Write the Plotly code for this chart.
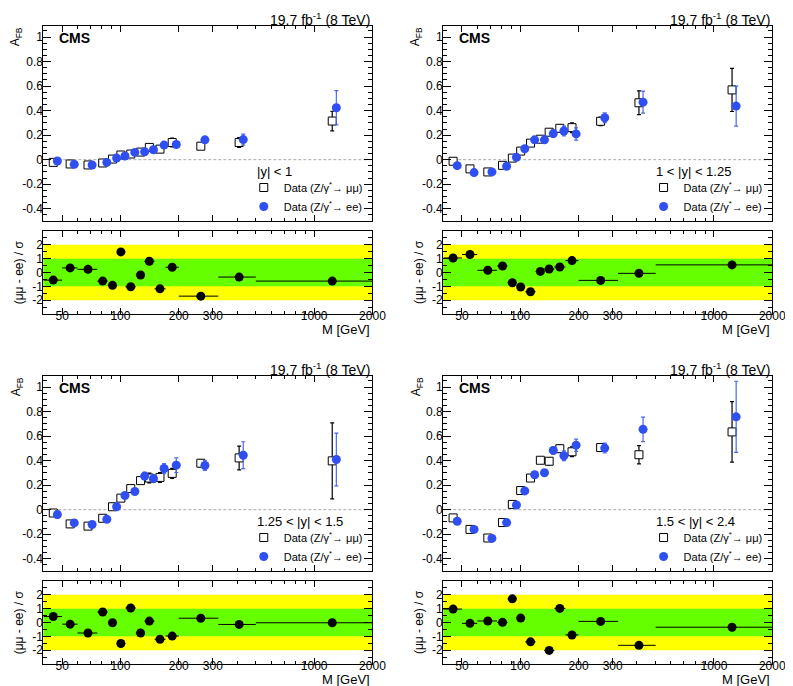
import plotly.graph_objects as go

# Dilepton mass bins [GeV] and mean mass of each bin
BIN_EDGES = [40, 50, 60, 76, 86, 96, 106, 120, 133, 150, 171, 200, 320, 500, 2000]
MASS = [45, 55, 68, 81, 91, 100.5, 113, 127, 141, 160, 185, 260, 410, 1240]

# |y| < 1
afb_mm_1 = [-0.022, -0.035, -0.043, -0.027, 0.005, 0.038, 0.046, 0.062, 0.100, 0.086, 0.140, 0.110, 0.140, 0.315]
err_mm_1 = [0.008, 0.006, 0.005, 0.004, 0.002, 0.003, 0.005, 0.008, 0.010, 0.015, 0.035, 0.020, 0.040, 0.080]
afb_ee_1 = [-0.011, -0.038, -0.043, -0.022, 0.013, 0.030, 0.059, 0.065, 0.081, 0.119, 0.124, 0.162, 0.164, 0.423]
err_ee_1 = [0.010, 0.008, 0.006, 0.005, 0.002, 0.004, 0.006, 0.010, 0.012, 0.018, 0.020, 0.025, 0.045, 0.140]
pull_1 = [-0.55, 0.33, 0.23, -0.62, -0.93, 1.49, -1.03, -0.18, 0.81, -1.18, 0.38, -1.71, -0.33, -0.62]

# 1 < |y| < 1.25
afb_mm_2 = [-0.013, -0.075, -0.100, -0.046, 0.013, 0.070, 0.135, 0.167, 0.224, 0.256, 0.261, 0.313, 0.464, 0.569]
err_mm_2 = [0.012, 0.010, 0.010, 0.008, 0.004, 0.006, 0.010, 0.015, 0.020, 0.030, 0.040, 0.035, 0.097, 0.176]
afb_ee_2 = [-0.049, -0.105, -0.100, -0.054, 0.019, 0.089, 0.162, 0.162, 0.213, 0.234, 0.210, 0.342, 0.469, 0.437]
err_ee_2 = [0.015, 0.012, 0.012, 0.010, 0.005, 0.008, 0.012, 0.030, 0.030, 0.040, 0.050, 0.040, 0.090, 0.163]
pull_2 = [1.05, 1.30, 0.16, 0.47, -0.74, -1.05, -1.39, 0.08, 0.25, 0.40, 0.86, -0.57, -0.06, 0.55]

# 1.25 < |y| < 1.5
afb_mm_3 = [-0.027, -0.116, -0.134, -0.070, 0.024, 0.094, 0.172, 0.237, 0.258, 0.263, 0.296, 0.379, 0.422, 0.398]
err_mm_3 = [0.015, 0.012, 0.012, 0.010, 0.005, 0.008, 0.012, 0.020, 0.040, 0.040, 0.040, 0.030, 0.097, 0.310]
afb_ee_3 = [-0.040, -0.108, -0.121, -0.078, 0.024, 0.116, 0.148, 0.274, 0.253, 0.336, 0.363, 0.360, 0.444, 0.409]
err_ee_3 = [0.030, 0.015, 0.015, 0.012, 0.006, 0.010, 0.015, 0.030, 0.030, 0.040, 0.060, 0.040, 0.110, 0.215]
pull_3 = [0.43, -0.12, -0.76, 0.76, -0.02, -1.52, 1.05, -0.76, 0.10, -1.21, -0.98, 0.31, -0.14, -0.02]

# 1.5 < |y| < 2.4  (bin 120-133 pull falls outside the frame)
afb_mm_4 = [-0.067, -0.161, -0.231, -0.105, 0.043, 0.156, 0.258, 0.403, 0.395, 0.497, 0.472, 0.507, 0.448, 0.634]
err_mm_4 = [0.012, 0.010, 0.010, 0.010, 0.006, 0.010, 0.012, 0.015, 0.030, 0.030, 0.040, 0.030, 0.075, 0.247]
afb_ee_4 = [-0.094, -0.161, -0.234, -0.105, 0.038, 0.153, 0.285, 0.301, 0.483, 0.440, 0.526, 0.502, 0.655, 0.757]
err_ee_4 = [0.015, 0.012, 0.012, 0.012, 0.008, 0.012, 0.015, 0.020, 0.030, 0.040, 0.050, 0.040, 0.100, 0.290]
pull_4 = [0.97, -0.06, 0.11, 0.01, 1.71, 0.32, -1.40, None, -2.02, 1.02, -0.90, 0.08, -1.65, -0.34]

RAP_LABELS = ["|y| < 1", "1 < |y| < 1.25", "1.25 < |y| < 1.5", "1.5 < |y| < 2.4"]

panels = [
    (afb_mm_1, err_mm_1, afb_ee_1, err_ee_1, pull_1),
    (afb_mm_2, err_mm_2, afb_ee_2, err_ee_2, pull_2),
    (afb_mm_3, err_mm_3, afb_ee_3, err_ee_3, pull_3),
    (afb_mm_4, err_mm_4, afb_ee_4, err_ee_4, pull_4),
]

W, H = 793, 686
FONT = "Liberation Sans, Arial, sans-serif"
BLUE = "#2f4ff0"
EE_SHIFT = 1.05  # ee points drawn slightly to the right of the mumu ones


def px(x):
    return x / W


def py(y):
    return 1 - y / H


lo_err = [m - lo for m, lo in zip(MASS, BIN_EDGES[:-1])]
hi_err = [hi - m for m, hi in zip(MASS, BIN_EDGES[1:])]
mass_ee = [m * EE_SHIFT for m in MASS]

fig = go.Figure()
layout = {}
shapes = []
annotations = []

x_major = [50, 100, 200, 300, 1000, 2000]
x_minor = [40, 60, 70, 80, 90, 400, 500, 600, 700, 800, 900]

for i, (mm, emm, ee, eee, pull) in enumerate(panels):
    col, row = i % 2, i // 2
    x0 = [36, 443][col]
    x1 = x0 + 335
    off = row * 350
    main_top, main_bot = 18 + off, 213 + off
    rat_top, rat_bot = 223 + off, 306 + off

    nm, nr = 2 * i + 1, 2 * i + 2
    sm = "" if nm == 1 else str(nm)
    sr = str(nr)
    leg = "legend" if i == 0 else f"legend{i + 1}"

    fig.add_trace(go.Scatter(
        x=MASS, y=mm, mode="markers", xaxis="x" + sm, yaxis="y" + sm,
        name="Data (Z/γ<sup>*</sup>→ μμ)", legend=leg,
        marker=dict(symbol="square", size=8, color="white",
                    line=dict(color="black", width=1)),
        error_y=dict(type="data", array=emm, color="black", thickness=1.2, width=2),
    ))
    fig.add_trace(go.Scatter(
        x=mass_ee, y=ee, mode="markers", xaxis="x" + sm, yaxis="y" + sm,
        name="Data (Z/γ<sup>*</sup>→ ee)", legend=leg,
        marker=dict(symbol="circle", size=9, color=BLUE),
        error_y=dict(type="data", array=eee, color="#4a66ee", thickness=1.2, width=2),
    ))
    fig.add_trace(go.Scatter(
        x=MASS, y=pull, mode="markers", xaxis="x" + sr, yaxis="y" + sr,
        showlegend=False,
        marker=dict(symbol="circle", size=9, color="black"),
        error_x=dict(type="data", symmetric=False, array=hi_err, arrayminus=lo_err,
                     color="black", thickness=1, width=0),
    ))

    xcommon = dict(type="log", range=[1.60206, 3.30103], domain=[px(x0), px(x1)],
                   showline=True, linecolor="black", linewidth=1, mirror="allticks",
                   ticks="inside", ticklen=6, tickcolor="black",
                   tickvals=x_major, ticktext=[str(v) for v in x_major],
                   minor=dict(tickvals=x_minor, ticks="inside", ticklen=3, tickcolor="black"),
                   showgrid=False, zeroline=False, ticklabelstandoff=-9,
                   tickfont=dict(family=FONT, size=12, color="black"))
    layout["xaxis" + sm] = dict(xcommon, anchor="y" + sm, showticklabels=False)
    layout["xaxis" + sr] = dict(xcommon, anchor="y" + sr, showticklabels=True)
    ycommon = dict(showline=True, linecolor="black", linewidth=1, mirror="allticks",
                   ticks="inside", ticklen=8, tickcolor="black",
                   showgrid=False, zeroline=False, ticklabelstandoff=-3,
                   tickfont=dict(family=FONT, size=12, color="black"))
    layout["yaxis" + sm] = dict(
        ycommon, anchor="x" + sm, domain=[py(main_bot), py(main_top)], range=[-0.5, 1.09],
        tickvals=[-0.4, -0.2, 0, 0.2, 0.4, 0.6, 0.8, 1],
        ticktext=["-0.4", "-0.2", "0", "0.2", "0.4", "0.6", "0.8", "1"],
        minor=dict(dtick=0.05, tick0=0, ticks="inside", ticklen=4, tickcolor="black"))
    layout["yaxis" + sr] = dict(
        ycommon, anchor="x" + sr, domain=[py(rat_bot), py(rat_top)], range=[-3, 3],
        tickvals=[-2, -1, 0, 1, 2], ticktext=["-2", "-1", "0", "1", "2"],
        minor=dict(dtick=0.5, tick0=0, ticks="inside", ticklen=4, tickcolor="black"))

    # +-2 sigma and +-1 sigma bands
    shapes.append(dict(type="rect", xref=f"x{sr} domain", yref="y" + sr,
                       x0=0, x1=1, y0=-2, y1=2, fillcolor="#ffff00",
                       line=dict(width=0), layer="below"))
    shapes.append(dict(type="rect", xref=f"x{sr} domain", yref="y" + sr,
                       x0=0, x1=1, y0=-1, y1=1, fillcolor="#66ff00",
                       line=dict(width=0), layer="below"))
    # zero line
    shapes.append(dict(type="line", xref=f"x{sm} domain", yref="y" + sm,
                       x0=0, x1=1, y0=0, y1=0,
                       line=dict(color="#aaaaaa", width=1, dash="3px,2px"), layer="below"))

    annotations += [
        dict(text="19.7 fb<sup>-1</sup> (8 TeV)", x=px(x1), y=py(11 + off),
             xref="paper", yref="paper", xanchor="right", yanchor="middle",
             showarrow=False, font=dict(family=FONT, size=14, color="black")),
        dict(text="<b>CMS</b>", x=px(x0 + 14), y=py(30 + off),
             xref="paper", yref="paper", xanchor="left", yanchor="middle",
             showarrow=False, font=dict(family=FONT, size=14, color="black")),
        dict(text="A<sub>FB</sub>", x=px(x0 - 27), y=py(17 + off), textangle=-90,
             xref="paper", yref="paper", xanchor="center", yanchor="top",
             showarrow=False, font=dict(family=FONT, size=12, color="black")),
        dict(text="(μμ - ee) / σ", x=px(x0 - 25), y=py((rat_top + rat_bot) / 2),
             textangle=-90, xref="paper", yref="paper",
             xanchor="center", yanchor="middle",
             showarrow=False, font=dict(family=FONT, size=12, color="black")),
        dict(text="M [GeV]", x=px(x1), y=py(rat_bot + 15),
             xref="paper", yref="paper", xanchor="right", yanchor="middle",
             showarrow=False, font=dict(family=FONT, size=13, color="black")),
        dict(text=RAP_LABELS[i], x=px(x0 + 215), y=py(163 + off),
             xref="paper", yref="paper", xanchor="left", yanchor="middle",
             showarrow=False, font=dict(family=FONT, size=13, color="black")),
    ]
    layout[leg] = dict(x=px(x0 + 204), y=py(165 + off), xanchor="left", yanchor="top",
                       bgcolor="rgba(0,0,0,0)", borderwidth=0,
                       font=dict(family=FONT, size=11, color="black"))

fig.update_layout(
    width=W, height=H, margin=dict(l=0, r=0, t=0, b=0),
    paper_bgcolor="white", plot_bgcolor="white",
    shapes=shapes, annotations=annotations, **layout,
)

fig.write_html("out.html")
